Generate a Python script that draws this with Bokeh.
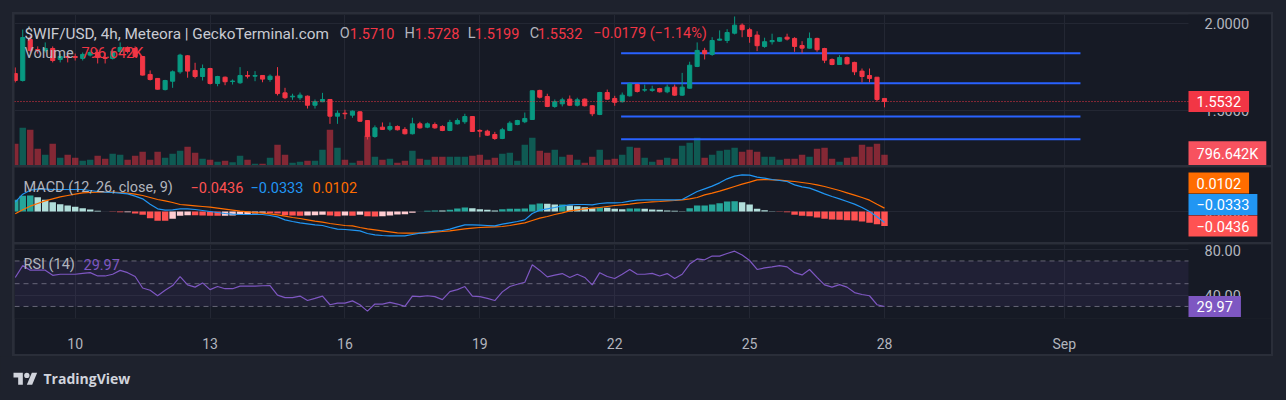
import datetime as dt
from bokeh.plotting import figure
from bokeh.models import (Range1d, LinearAxis, FixedTicker, Label, BoxAnnotation,
                          ColumnDataSource, NumeralTickFormatter, Grid, GlobalInlineStyleSheet)
from bokeh.layouts import column
from bokeh.embed import file_html
from bokeh.resources import INLINE
from bokeh.core.properties import value

# ---------------- data ----------------
bar_start = dt.datetime(2024, 8, 8, 16)   # first 4h bar
opens = [1.714, 1.674, 1.910, 1.852, 1.847, 1.858, 1.795, 1.812, 1.812, 1.801,
         1.820, 1.835, 1.806, 1.801, 1.841, 1.864, 1.858, 1.812, 1.709, 1.686,
         1.622, 1.670, 1.724, 1.816, 1.732, 1.697, 1.743, 1.657, 1.693, 1.668,
         1.661, 1.703, 1.699, 1.703, 1.680, 1.699, 1.603, 1.580, 1.575, 1.584,
         1.532, 1.552, 1.565, 1.469, 1.486, 1.475, 1.494, 1.444, 1.352, 1.406,
         1.394, 1.410, 1.393, 1.368, 1.425, 1.406, 1.421, 1.410, 1.387, 1.425,
         1.437, 1.467, 1.387, 1.383, 1.364, 1.341, 1.387, 1.421, 1.437, 1.450,
         1.617, 1.582, 1.525, 1.540, 1.567, 1.532, 1.567, 1.529, 1.479, 1.605,
         1.571, 1.552, 1.586, 1.651, 1.619, 1.617, 1.628, 1.609, 1.636, 1.590,
         1.630, 1.755, 1.847, 1.824, 1.906, 1.904, 1.946, 1.992, 1.966, 1.935,
         1.870, 1.897, 1.900, 1.923, 1.916, 1.875, 1.860, 1.916, 1.858, 1.795,
         1.766, 1.806, 1.778, 1.728, 1.703, 1.693, 1.5710]
highs = [1.749, 1.967, 1.933, 1.870, 1.893, 1.870, 1.829, 1.835, 1.829, 1.835,
         1.847, 1.852, 1.835, 1.847, 1.893, 1.870, 1.870, 1.814, 1.732, 1.688,
         1.678, 1.732, 1.828, 1.820, 1.776, 1.766, 1.747, 1.701, 1.697, 1.680,
         1.751, 1.728, 1.728, 1.705, 1.709, 1.751, 1.632, 1.598, 1.605, 1.588,
         1.565, 1.603, 1.567, 1.502, 1.506, 1.502, 1.498, 1.446, 1.416, 1.433,
         1.433, 1.416, 1.406, 1.460, 1.437, 1.433, 1.433, 1.417, 1.448, 1.456,
         1.483, 1.469, 1.394, 1.391, 1.379, 1.402, 1.440, 1.448, 1.490, 1.617,
         1.621, 1.598, 1.565, 1.575, 1.588, 1.575, 1.571, 1.532, 1.609, 1.622,
         1.586, 1.605, 1.661, 1.655, 1.651, 1.644, 1.632, 1.651, 1.651, 1.718,
         1.782, 1.893, 1.862, 1.923, 1.962, 1.969, 2.042, 2.002, 1.977, 1.957,
         1.920, 1.943, 1.923, 1.943, 1.923, 1.900, 1.950, 1.920, 1.862, 1.801,
         1.820, 1.812, 1.782, 1.743, 1.743, 1.693, 1.5728]
lows = [1.663, 1.668, 1.835, 1.829, 1.835, 1.778, 1.778, 1.778, 1.789, 1.789,
        1.812, 1.772, 1.772, 1.795, 1.824, 1.829, 1.806, 1.703, 1.674, 1.622,
        1.617, 1.632, 1.713, 1.690, 1.686, 1.674, 1.651, 1.641, 1.647, 1.651,
        1.655, 1.686, 1.670, 1.664, 1.667, 1.588, 1.567, 1.563, 1.563, 1.513,
        1.513, 1.550, 1.425, 1.425, 1.452, 1.460, 1.437, 1.335, 1.345, 1.391,
        1.383, 1.387, 1.364, 1.364, 1.397, 1.400, 1.397, 1.383, 1.383, 1.421,
        1.425, 1.379, 1.348, 1.356, 1.333, 1.337, 1.383, 1.417, 1.429, 1.448,
        1.571, 1.521, 1.517, 1.525, 1.529, 1.525, 1.525, 1.469, 1.475, 1.563,
        1.529, 1.548, 1.582, 1.605, 1.609, 1.609, 1.605, 1.601, 1.586, 1.586,
        1.628, 1.751, 1.795, 1.816, 1.904, 1.889, 1.939, 1.923, 1.891, 1.843,
        1.862, 1.881, 1.897, 1.904, 1.839, 1.831, 1.858, 1.839, 1.774, 1.762,
        1.766, 1.766, 1.705, 1.663, 1.663, 1.552, 1.5199]
closes = [1.674, 1.921, 1.847, 1.847, 1.858, 1.789, 1.812, 1.806, 1.806, 1.824,
          1.835, 1.806, 1.801, 1.841, 1.864, 1.841, 1.812, 1.705, 1.680, 1.624,
          1.674, 1.724, 1.820, 1.728, 1.697, 1.743, 1.657, 1.697, 1.667, 1.671,
          1.703, 1.699, 1.703, 1.682, 1.699, 1.599, 1.575, 1.584, 1.590, 1.532,
          1.552, 1.565, 1.469, 1.486, 1.483, 1.498, 1.440, 1.352, 1.402, 1.393,
          1.410, 1.391, 1.368, 1.425, 1.402, 1.425, 1.402, 1.387, 1.433, 1.444,
          1.467, 1.381, 1.383, 1.360, 1.341, 1.391, 1.429, 1.444, 1.456, 1.615,
          1.578, 1.525, 1.552, 1.563, 1.532, 1.563, 1.529, 1.483, 1.605, 1.567,
          1.549, 1.590, 1.655, 1.611, 1.621, 1.624, 1.609, 1.636, 1.590, 1.636,
          1.762, 1.847, 1.828, 1.904, 1.912, 1.950, 1.992, 1.966, 1.927, 1.874,
          1.897, 1.904, 1.920, 1.912, 1.870, 1.860, 1.916, 1.851, 1.791, 1.766,
          1.806, 1.770, 1.724, 1.697, 1.686, 1.565, 1.5532]
volume_k = [1617, 2809, 2660, 1244, 797, 1617, 574, 797, 574, 350,
            425, 723, 499, 872, 797, 425, 723, 1021, 425, 1021,
            574, 872, 1095, 1393, 946, 499, 425, 276, 350, 238,
            723, 425, 127, 127, 574, 1542, 797, 201, 276, 350,
            350, 1170, 2660, 1319, 425, 201, 350, 2213, 648, 425,
            499, 201, 350, 1095, 499, 425, 648, 648, 648, 648,
            648, 723, 797, 425, 574, 872, 946, 350, 1542, 2064,
            1095, 946, 1170, 648, 797, 425, 201, 648, 1170, 425,
            499, 797, 1393, 1319, 574, 276, 425, 574, 499, 1468,
            1691, 2064, 574, 797, 1095, 1170, 1319, 1021, 1170, 1021,
            648, 648, 425, 499, 499, 797, 648, 1244, 1319, 499,
            276, 574, 648, 1542, 1393, 1617, 796.642]
macd_line = [0.028, 0.052, 0.064, 0.067, 0.067, 0.066, 0.066, 0.066, 0.066, 0.066,
             0.063, 0.060, 0.058, 0.057, 0.055, 0.053, 0.046, 0.038, 0.022, 0.008,
             0.004, 0.005, 0.008, 0.008, 0.006, 0.003, 0.000, -0.003, -0.006, -0.008,
             -0.009, -0.009, -0.009, -0.009, -0.012, -0.016, -0.025, -0.030, -0.034, -0.037,
             -0.040, -0.042, -0.048, -0.053, -0.054, -0.056, -0.058, -0.066, -0.070, -0.072,
             -0.073, -0.073, -0.073, -0.069, -0.065, -0.062, -0.059, -0.057, -0.053, -0.046,
             -0.040, -0.040, -0.041, -0.042, -0.043, -0.038, -0.034, -0.030, -0.025, -0.006,
             0.004, 0.008, 0.012, 0.017, 0.020, 0.021, 0.021, 0.020, 0.024, 0.026,
             0.026, 0.027, 0.031, 0.034, 0.035, 0.035, 0.035, 0.035, 0.035, 0.036,
             0.048, 0.060, 0.068, 0.076, 0.086, 0.098, 0.106, 0.110, 0.109, 0.103,
             0.100, 0.096, 0.093, 0.090, 0.080, 0.074, 0.070, 0.062, 0.053, 0.045,
             0.038, 0.030, 0.022, 0.012, 0.000, -0.016, -0.0333]
signal_line = [-0.007, 0.005, 0.016, 0.024, 0.032, 0.038, 0.044, 0.048, 0.052, 0.056,
               0.057, 0.058, 0.058, 0.058, 0.057, 0.055, 0.052, 0.048, 0.042, 0.036,
               0.032, 0.027, 0.021, 0.019, 0.017, 0.015, 0.013, 0.010, 0.007, 0.004,
               0.001, -0.001, -0.003, -0.005, -0.007, -0.010, -0.014, -0.018, -0.021, -0.025,
               -0.029, -0.032, -0.036, -0.039, -0.042, -0.043, -0.048, -0.052, -0.055, -0.058,
               -0.061, -0.064, -0.065, -0.065, -0.065, -0.064, -0.062, -0.060, -0.058, -0.055,
               -0.052, -0.050, -0.048, -0.047, -0.046, -0.045, -0.042, -0.038, -0.034, -0.027,
               -0.020, -0.015, -0.009, -0.004, 0.002, 0.005, 0.008, 0.010, 0.012, 0.015,
               0.018, 0.020, 0.022, 0.025, 0.027, 0.029, 0.030, 0.032, 0.033, 0.035,
               0.038, 0.042, 0.050, 0.055, 0.061, 0.068, 0.075, 0.082, 0.088, 0.095,
               0.096, 0.095, 0.094, 0.092, 0.090, 0.087, 0.084, 0.080, 0.075, 0.069,
               0.063, 0.056, 0.049, 0.042, 0.034, 0.022, 0.0102]
rsi_line = [55.5, 65.9, 61.9, 61.9, 61.9, 57.4, 58.3, 58.3, 58.3, 59.0,
            59.7, 56.8, 56.8, 58.3, 61.7, 59.7, 56.3, 46.2, 44.2, 39.4,
            44.2, 48.4, 56.3, 49.0, 47.0, 50.7, 44.8, 47.5, 45.6, 45.6,
            47.9, 47.9, 47.9, 48.2, 48.4, 39.9, 37.7, 37.7, 39.1, 35.2,
            37.1, 39.1, 31.5, 32.9, 32.9, 34.9, 31.5, 25.9, 32.1, 32.1,
            33.5, 32.1, 30.1, 39.1, 38.6, 39.4, 38.6, 36.0, 43.0, 44.8,
            47.5, 39.1, 38.6, 37.1, 35.2, 42.8, 47.5, 49.5, 51.3, 66.7,
            61.7, 56.0, 57.5, 58.9, 55.5, 58.3, 55.5, 49.0, 59.7, 56.3,
            54.6, 58.3, 62.5, 58.3, 58.3, 59.1, 56.8, 58.9, 54.6, 58.3,
            67.3, 71.8, 71.0, 74.3, 74.3, 76.6, 78.6, 75.2, 70.4, 62.5,
            63.9, 64.8, 65.9, 64.8, 59.7, 57.7, 62.5, 55.5, 49.0, 47.0,
            49.2, 47.0, 42.2, 40.5, 39.4, 31.5, 29.97]
level_prices = [1.831, 1.659, 1.467, 1.337]       # drawn horizontal lines
level_from_bar, level_to_bar = 80.85, 142.15
tick_dates = [dt.datetime(2024, 8, d) for d in (10, 13, 16, 19, 22, 25, 28)] + [dt.datetime(2024, 9, 1)]
tick_labels = ["10", "13", "16", "19", "22", "25", "28", "Sep"]
price_ticks = [1.5, 2.0]
macd_ticks = [0.0]
rsi_ticks = [40, 80]
rsi_levels = [70, 50, 30]
legend_title = "$WIF/USD, 4h, Meteora | GeckoTerminal.com"
ohlc_text = ["1.5710", "1.5728", "1.5199", "1.5532"]
change_text = "\u22120.0179 (\u22121.14%)"
volume_text = "796.642K"
macd_readout = {"hist": -0.0436, "macd": -0.0333, "signal": 0.0102}
rsi_readout = 29.97

# ---------------- style ----------------
BG_OUTER = "#1e222d"
BG_INNER = "#161a25"
SEP = "#2a2e39"
GRID = "#232733"
TXT = "#b2b5be"
UP, DOWN = "#089981", "#f23645"
FONT = "Roboto"
FS = "14.5px"
LFS = "14.5px"

N = len(closes)
idx = list(range(N))
def bar_of(d):
    return int((d - bar_start).total_seconds() // (4 * 3600))
tick_idx = [bar_of(d) for d in tick_dates]

W = 1257                    # full pane width incl. price scale
PX = 7.4935                 # pixels per bar
X0 = -0.1
XA = X0 + 1174 / PX         # left edge of price scale column
xr = Range1d(X0, X0 + W / PX)

def base_fig(h, y0, y1, ticks, fmt, bottom=0):
    p = figure(width=W, height=h, x_range=xr, y_range=Range1d(y0, y1),
               output_backend="svg", toolbar_location=None,
               x_axis_location=None, y_axis_location=None,
               min_border_left=0, min_border_right=0, min_border_top=0,
               min_border_bottom=bottom,
               background_fill_color=BG_INNER, border_fill_color=BG_INNER,
               outline_line_color=None)
    p.center = [r for r in p.center if not isinstance(r, Grid)]
    p.add_layout(Grid(dimension=0, ticker=FixedTicker(ticks=tick_idx),
                      grid_line_color=GRID, grid_line_width=1))
    p.add_layout(Grid(dimension=1, ticker=FixedTicker(ticks=ticks),
                      grid_line_color=GRID, grid_line_width=1))
    # price-scale column background (hides grid lines there)
    p.add_layout(BoxAnnotation(left=XA, fill_color=BG_INNER, fill_alpha=1.0,
                               line_color=None, level="underlay"))
    ax = LinearAxis(ticker=FixedTicker(ticks=ticks), fixed_location=XA,
                    formatter=NumeralTickFormatter(format=fmt))
    ax.axis_line_color = None
    ax.major_tick_line_color = None
    ax.minor_tick_line_color = None
    ax.major_label_text_color = TXT
    ax.major_label_text_font = FONT
    ax.major_label_text_font_size = FS
    ax.major_label_standoff = 10
    p.add_layout(ax, "right")
    return p

def legend(p, segments, y_off):
    for x_off, text, color, *size in segments:
        p.add_layout(Label(x=p.x_range.start, y=p.y_range.end, x_offset=x_off, y_offset=-y_off,
                           text=text, text_color=color, text_font=FONT,
                           text_font_size=size[0] if size else LFS,
                           text_align="left", text_baseline="middle"))

def axis_tag(p, y, text, color, range_name="default"):
    p.add_layout(Label(x=XA, y=y, text=text, text_color="#ffffff",
                       text_font=FONT, text_font_size=FS, text_align="left",
                       text_baseline="middle", background_fill_color=color,
                       padding=(8, 5), y_range_name=range_name))

# ---------------- main price pane ----------------
main = base_fig(151, 1.1856, 2.0534, price_ticks, "0.0000")
main.extra_y_ranges = {"vol": Range1d(0, 11250)}
colors = [UP if c >= o else DOWN for o, c in zip(opens, closes)]
src = ColumnDataSource(dict(x=idx, o=opens, h=highs, l=lows, c=closes, v=volume_k,
                            top=[max(o, c) for o, c in zip(opens, closes)],
                            bot=[min(o, c) for o, c in zip(opens, closes)],
                            col=colors))
main.vbar(x="x", top="v", bottom=0, width=0.86, fill_color="col", fill_alpha=0.5,
          line_color=None, y_range_name="vol", source=src)
main.segment(x0=[level_from_bar] * len(level_prices), x1=[level_to_bar] * len(level_prices),
             y0=level_prices, y1=level_prices, line_color="#2962ff", line_width=2)
main.segment(x0="x", x1="x", y0="l", y1="h", line_color="col", line_width=1, source=src)
main.vbar(x="x", top="top", bottom="bot", width=0.55, fill_color="col", line_color="col",
          line_width=1, source=src)
main.segment(x0=[X0], x1=[XA], y0=[closes[-1]], y1=[closes[-1]], line_color=DOWN,
             line_dash="1 2", line_width=1)
axis_tag(main, closes[-1], f"{closes[-1]:.4f}", "#f23645")
axis_tag(main, volume_k[-1], volume_text, "#f7525f", "vol")
legend(main, [(10, legend_title, "#c9cbd3", "15.3px"),
              (325.3, "O", TXT), (335.3, ohlc_text[0], DOWN),
              (390, "H", TXT), (400.3, ohlc_text[1], DOWN),
              (453.3, "L", TXT), (460.3, ohlc_text[2], DOWN),
              (515.3, "C", TXT), (523.3, ohlc_text[3], DOWN),
              (578.7, change_text, DOWN)], 19)
legend(main, [(10, "Volume", TXT), (67, volume_text, DOWN)], 39)

# ---------------- MACD pane ----------------
macd = base_fig(75, -0.093, 0.132, macd_ticks, "0.0000")
hist = [m - s for m, s in zip(macd_line, signal_line)]
hcol = []
for i, hv in enumerate(hist):
    prev = hist[i - 1] if i else hv
    if hv >= 0:
        hcol.append("#26a69a" if hv >= prev else "#b2dfdb")
    else:
        hcol.append("#ff5252" if hv < prev else "#ffcdd2")
macd.vbar(x=idx, top=hist, bottom=0, width=0.86, fill_color=hcol, line_color=None)
macd.line(idx, signal_line, line_color="#ff6d00", line_width=1.2)
macd.line(idx, macd_line, line_color="#2196f3", line_width=1.2)
fmt = lambda v: f"{v:.4f}".replace("-", "\u2212")
tags = sorted([(macd_readout["hist"], "#ff5252"), (macd_readout["macd"], "#2196f3"),
               (macd_readout["signal"], "#ff6d00")])
gap = 21.5 * (0.132 + 0.093) / 75
prev = None
for v, col in tags:
    pos = v if prev is None else max(v, prev + gap)
    axis_tag(macd, pos, fmt(v), col)
    prev = pos
legend(macd, [(9, "MACD (12, 26, close, 9)", TXT), (176, fmt(macd_readout["hist"]), "#ff5252"),
              (236, fmt(macd_readout["macd"]), "#2196f3"), (298, fmt(macd_readout["signal"]), "#ff6d00")], 19.7)

# ---------------- RSI pane ----------------
rsi = base_fig(110, 19.39, 84.48, rsi_ticks, "0.00", bottom=33)
rsi.add_layout(BoxAnnotation(left=X0, right=XA, bottom=30, top=70, fill_color="#7e57c2",
                             fill_alpha=0.1, line_color=None))
rsi.segment(x0=[X0] * 3, x1=[XA] * 3, y0=rsi_levels, y1=rsi_levels, line_color="#787b86",
            line_dash="5 4", line_width=1, line_alpha=0.8)
rsi.line(idx, rsi_line, line_color="#7e57c2", line_width=1.2)
axis_tag(rsi, rsi_readout, f"{rsi_readout:.2f}", "#7e57c2")
legend(rsi, [(9, "RSI (14)", TXT), (69, f"{rsi_readout:.2f}", "#7e57c2")], 20)
xax = LinearAxis(ticker=FixedTicker(ticks=tick_idx),
                 major_label_overrides={t: s for t, s in zip(tick_idx, tick_labels)})
xax.axis_line_color = None
xax.major_tick_line_color = None
xax.minor_tick_line_color = None
xax.major_label_text_color = TXT
xax.major_label_text_font = FONT
xax.major_label_text_font_size = "14px"
xax.major_label_standoff = 11
rsi.add_layout(xax, "below")

# ---------------- footer ----------------
foot = figure(width=1286, height=36, x_range=Range1d(0, 1286), y_range=Range1d(36, 0),
              output_backend="svg", toolbar_location=None, x_axis_location=None,
              y_axis_location=None, min_border=0, background_fill_color=BG_OUTER,
              border_fill_color=BG_OUTER, outline_line_color=None)
foot.grid.visible = False
s, ox, oy = 0.667, 13.0, 13.6
logo_t = [(14, 22), (7, 22), (7, 11), (0, 11), (0, 4), (14, 4)]
logo_v = [(28, 22), (20, 22), (27.5, 4), (35.5, 4)]
foot.patches([[ox + s * a for a, b in logo_t], [ox + s * a for a, b in logo_v]],
             [[oy + s * b for a, b in logo_t], [oy + s * b for a, b in logo_v]],
             fill_color="#d1d4dc", line_color=None)
foot.scatter([ox + s * 20], [oy + s * 8], size=2 * s * 4, fill_color="#d1d4dc", line_color=None)
foot.text(x=[43], y=[22.3], text=["TradingView"], text_font=value("Open Sans"),
          text_font_size="14px", text_font_style="bold", text_color="#d1d4dc",
          text_baseline="middle")

chart = column(main, macd, rsi, spacing=2, margin=(12, 0, 0, 12),
               styles={"background-color": SEP, "padding": "2px"})
root = column(chart, foot, stylesheets=[GlobalInlineStyleSheet(css="body{background-color:%s;}" % BG_OUTER)])

open("out.html", "w").write(file_html(root, INLINE))
